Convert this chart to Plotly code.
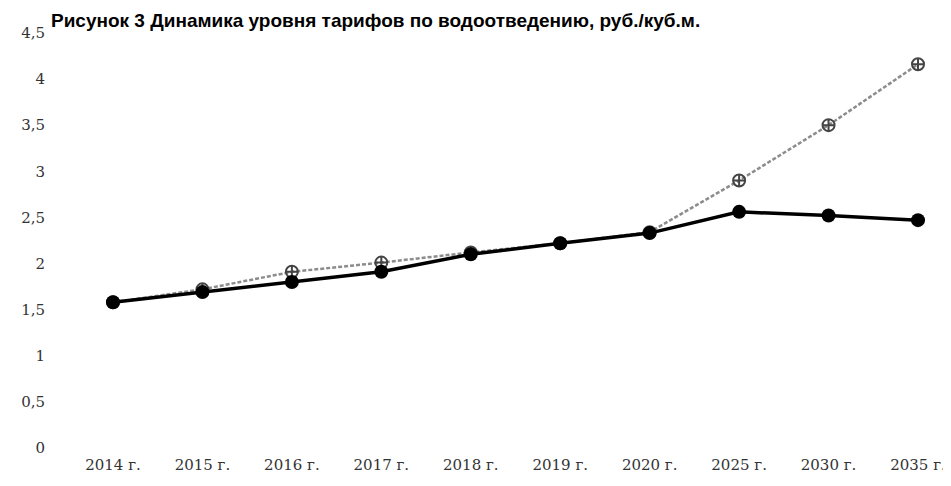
import plotly.graph_objects as go

categories = ["2014 г.", "2015 г.", "2016 г.", "2017 г.", "2018 г.", "2019 г.", "2020 г.", "2025 г.", "2030 г.", "2035 г."]
series_forecast = [1.58, 1.72, 1.91, 2.01, 2.12, 2.22, 2.34, 2.90, 3.50, 4.16]
series_base = [1.58, 1.69, 1.80, 1.91, 2.10, 2.22, 2.33, 2.56, 2.52, 2.47]
ytick_vals = [0, 0.5, 1, 1.5, 2, 2.5, 3, 3.5, 4, 4.5]
ytick_text = ["0", "0,5", "1", "1,5", "2", "2,5", "3", "3,5", "4", "4,5"]
title_text = "Рисунок 3 Динамика уровня тарифов по водоотведению, руб./куб.м."

xs = list(range(len(categories)))

fig = go.Figure()
fig.add_trace(go.Scatter(
    x=xs, y=series_forecast, mode="lines+markers",
    line=dict(color="#8c8c8c", width=2.5, dash="4px,2px"),
    marker=dict(symbol="circle-cross-open", size=12, color="#444444", line=dict(width=2)),
    showlegend=False,
))
fig.add_trace(go.Scatter(
    x=xs, y=series_base, mode="lines+markers",
    line=dict(color="#000000", width=3.5),
    marker=dict(symbol="circle", size=14, color="#000000"),
    showlegend=False,
))

fig.update_layout(
    width=951, height=486,
    margin=dict(l=52, r=8, t=12, b=46),
    paper_bgcolor="white", plot_bgcolor="white",
    font=dict(family="DejaVu Serif", size=15, color="#333333"),
    xaxis=dict(
        tickmode="array", tickvals=xs, ticktext=categories, automargin=False,
        range=[-0.5926, 9.369], showgrid=False, zeroline=False, showline=False,
        ticks="", ticklabelstandoff=6,
        tickfont=dict(family="DejaVu Serif", size=15, color="#333333"),
    ),
    yaxis=dict(
        tickmode="array", tickvals=ytick_vals, ticktext=ytick_text, automargin=False,
        range=[0, 4.64], showgrid=False, zeroline=False, showline=False,
        ticks="", ticklabelstandoff=14,
        tickfont=dict(family="DejaVu Serif", size=15, color="#333333"),
    ),
    annotations=[dict(
        text="<b>" + title_text + "</b>", xref="paper", yref="paper",
        x=-0.012, y=1, xanchor="left", yanchor="top", yshift=12,
        showarrow=False, font=dict(family="Liberation Sans", size=19, color="#000000"),
    )],
)

fig.write_html("out.html")
